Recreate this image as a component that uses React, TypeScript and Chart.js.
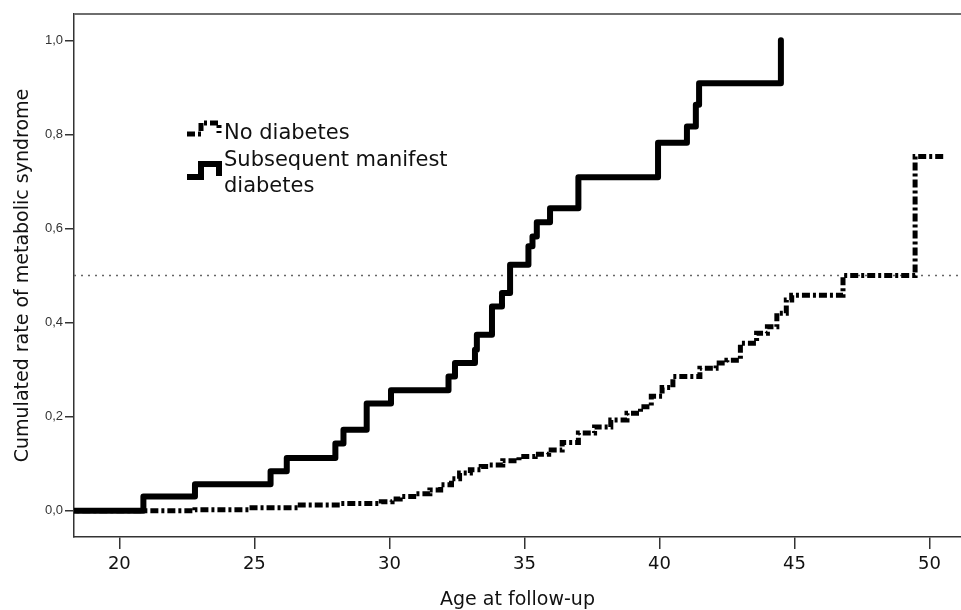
import React, { useEffect, useRef } from 'react';
import { Chart, registerables } from 'chart.js';

Chart.register(...registerables);

// ---- data ----
const xTickValues = [20, 25, 30, 35, 40, 45, 50];
const yTickValues = [0, 0.2, 0.4, 0.6, 0.8, 1.0];
const xMin = 18.32;
const xMax = 51.17;
const yMin = -0.056;
const yMax = 1.056;

const seriesLabels = ['No diabetes', 'Subsequent manifest diabetes'];
const legendLines = [['No diabetes'], ['Subsequent manifest', 'diabetes']];

const diabetesAges = [18.0, 20.89, 22.8, 25.6, 26.2, 28.0, 28.3, 29.16, 30.06, 32.19, 32.43, 33.17, 33.24, 33.8, 34.17, 34.47, 35.15, 35.3, 35.46, 35.95, 37.0, 39.95, 41.02, 41.35, 41.47, 44.5];
const diabetesRates = [0, 0.030, 0.056, 0.084, 0.112, 0.143, 0.172, 0.228, 0.256, 0.285, 0.314, 0.342, 0.374, 0.434, 0.463, 0.523, 0.562, 0.583, 0.613, 0.643, 0.709, 0.782, 0.817, 0.863, 0.909, 1.0];

const noDiabetesAges = [18.0, 22.8, 24.8, 26.7, 28.2, 29.7, 30.1, 30.4, 30.9, 31.5, 31.9, 32.3, 32.6, 33.0, 33.4, 33.7, 34.2, 34.8, 35.4, 35.9, 36.4, 37.0, 37.6, 38.2, 38.8, 39.3, 39.7, 40.1, 40.5, 41.5, 42.1, 42.5, 43.0, 43.6, 44.0, 44.35, 44.7, 44.9, 46.8, 49.47, 50.6];
const noDiabetesRates = [0, 0.002, 0.006, 0.012, 0.015, 0.019, 0.025, 0.030, 0.036, 0.044, 0.055, 0.068, 0.080, 0.087, 0.094, 0.097, 0.106, 0.115, 0.120, 0.129, 0.145, 0.165, 0.178, 0.193, 0.207, 0.221, 0.243, 0.262, 0.285, 0.303, 0.314, 0.320, 0.356, 0.377, 0.391, 0.420, 0.448, 0.458, 0.500, 0.753, 0.753];

const referenceRate = 0.5;

const FONT = '"DejaVu Sans", sans-serif';

const framePlugin = {
  id: 'frameTop',
  afterDraw(chart: any) {
    const { ctx, chartArea } = chart;
    ctx.save();
    ctx.strokeStyle = '#6e6e6e';
    ctx.lineWidth = 2;
    ctx.beginPath();
    ctx.moveTo(chartArea.left, chartArea.top);
    ctx.lineTo(chart.width, chartArea.top);
    ctx.stroke();
    ctx.restore();
  },
};

const legendPlugin = {
  id: 'insetLegend',
  afterDraw(chart: any) {
    const { ctx } = chart;
    ctx.save();
    // symbol + text for each series
    const entries = [
      { ds: chart.data.datasets[0], lines: legendLines[0], symTop: 123, symBottom: 134, baseline: 139 },
      { ds: chart.data.datasets[1], lines: legendLines[1], symTop: 164, symBottom: 177, baseline: 166 },
    ];
    entries.forEach((e) => {
      ctx.strokeStyle = e.ds.borderColor;
      ctx.lineWidth = e.ds.borderWidth;
      ctx.setLineDash(e.ds.borderDash || []);
      ctx.lineCap = 'butt';
      ctx.lineJoin = 'miter';
      ctx.beginPath();
      ctx.moveTo(187, e.symBottom);
      ctx.lineTo(201, e.symBottom);
      ctx.lineTo(201, e.symTop);
      ctx.lineTo(219, e.symTop);
      ctx.lineTo(219, e.symBottom - 1);
      ctx.stroke();
      ctx.setLineDash([]);
      ctx.fillStyle = '#111';
      ctx.font = '21px ' + FONT;
      ctx.textBaseline = 'alphabetic';
      ctx.textAlign = 'left';
      e.lines.forEach((t: string, i: number) => {
        ctx.fillText(t, 224, e.baseline + i * 26);
      });
    });
    ctx.restore();
  },
};

export default function App() {
  const ref = useRef<HTMLCanvasElement>(null);

  useEffect(() => {
    const canvas = ref.current;
    if (!canvas) return;
    const chart = new Chart(canvas, {
      type: 'line',
      data: {
        datasets: [
          {
            label: seriesLabels[0],
            data: noDiabetesAges.map((a, i) => ({ x: a, y: noDiabetesRates[i] })),
            stepped: 'before',
            borderColor: '#000',
            borderWidth: 5,
            borderDash: [8, 3, 3, 3],
            borderCapStyle: 'butt',
            borderJoinStyle: 'miter',
            pointRadius: 0,
            fill: false,
          },
          {
            label: seriesLabels[1],
            data: diabetesAges.map((a, i) => ({ x: a, y: diabetesRates[i] })),
            stepped: 'before',
            borderColor: '#000',
            borderWidth: 6,
            borderCapStyle: 'round',
            borderJoinStyle: 'round',
            pointRadius: 0,
            fill: false,
          },
          {
            label: 'reference',
            data: [
              { x: xMin, y: referenceRate },
              { x: xMax, y: referenceRate },
            ],
            borderColor: '#666',
            borderWidth: 1.5,
            borderDash: [2, 5],
            pointRadius: 0,
            fill: false,
          },
        ],
      } as any,
      options: {
        animation: false,
        responsive: false,
        maintainAspectRatio: false,
        devicePixelRatio: 1,
        layout: { padding: { top: 14, left: 0, right: 0, bottom: 0 } },
        plugins: { legend: { display: false }, tooltip: { enabled: false } },
        scales: {
          x: {
            type: 'linear',
            min: xMin,
            max: xMax,
            afterBuildTicks: (s: any) => {
              s.ticks = xTickValues.map((v) => ({ value: v }));
            },
            afterFit: (s: any) => {
              s.height = 73;
            },
            grid: { drawOnChartArea: false, drawTicks: true, tickLength: 12, color: '#333', lineWidth: 1.5 },
            border: { color: '#333', width: 1.5 },
            ticks: {
              font: { family: FONT, size: 18 },
              color: '#111',
              padding: 5,
              maxRotation: 0,
              autoSkip: false,
              callback: (v: any) => String(v),
            },
            title: {
              display: true,
              text: 'Age at follow-up',
              font: { family: FONT, size: 19, lineHeight: 1.0 },
              color: '#111',
              padding: { top: 0, bottom: 0 },
            },
          },
          y: {
            type: 'linear',
            min: yMin,
            max: yMax,
            afterBuildTicks: (s: any) => {
              s.ticks = yTickValues.map((v) => ({ value: v }));
            },
            afterFit: (s: any) => {
              s.width = 74;
            },
            grid: { drawOnChartArea: false, drawTicks: true, tickLength: 9, color: '#333', lineWidth: 1.5 },
            border: { color: '#333', width: 1.5 },
            ticks: {
              font: { family: '"Liberation Sans", Arial, sans-serif', size: 13 },
              color: '#333',
              padding: 2,
              callback: (v: any) => Number(v).toFixed(1).replace('.', ','),
            },
            title: {
              display: true,
              text: 'Cumulated rate of metabolic syndrome',
              font: { family: FONT, size: 19, lineHeight: 1.0 },
              color: '#111',
              padding: { top: 14, bottom: 0 },
            },
          },
        },
      } as any,
      plugins: [framePlugin, legendPlugin],
    });
    return () => chart.destroy();
  }, []);

  return (
    <div style={{ position: 'fixed', left: 0, top: 0, width: 961, height: 610, background: '#fff' }}>
      <canvas ref={ref} width={961} height={610} style={{ display: 'block', width: 961, height: 610 }} />
    </div>
  );
}
